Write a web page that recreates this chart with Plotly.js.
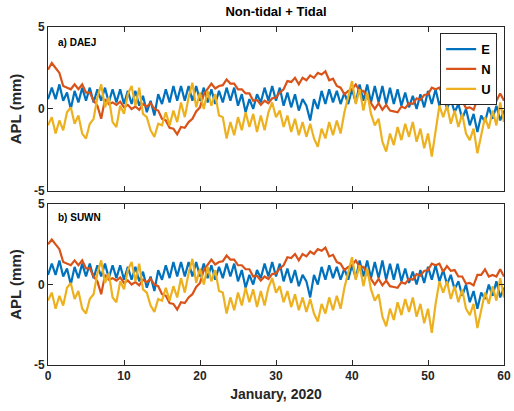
<!DOCTYPE html>
<html>
<head>
<meta charset="utf-8">
<script src="https://cdn.plot.ly/plotly-3.0.1.min.js"></script>
<style>html,body{margin:0;padding:0;background:#fff;}#chart{width:514px;height:411px;}</style>
</head>
<body>
<div id="chart"></div>
<script>
// Time axis: 0 .. 60 days, half-day sampling
const days = Array.from({length: 121}, (_, i) => i * 0.5);

const seriesNames = ['E', 'N', 'U'];
const panelLabels = ['a) DAEJ', 'b) SUWN'];
const xTicks = [0, 10, 20, 30, 40, 50, 60];
const yTicks = [-5, 0, 5];
const yTickText = ['-5', '0', '5'];

// ---- a) DAEJ ----
const daejE = [0.6,1.3,0.6,1.5,0.5,1.0,0.0,1.1,0.4,1.3,0.5,1.3,0.4,1.2,0.5,1.3,0.4,1.2,0.4,1.2,
  0.3,1.1,0.3,1.1,0.2,0.8,-0.2,0.5,-0.4,0.9,0.3,1.2,0.4,1.4,0.5,1.4,0.5,1.4,0.5,1.4,
  0.5,1.3,0.4,1.2,0.3,1.1,0.4,1.3,0.5,1.3,0.2,0.9,-0.2,0.6,0.0,0.9,0.4,1.3,0.5,1.4,
  0.5,1.3,0.2,1.0,0.1,0.9,-0.1,0.6,0.2,-0.7,0.6,0.0,1.1,0.3,1.2,0.4,1.1,0.3,1.0,0.3,
  1.2,0.4,1.5,0.5,1.5,0.4,1.4,0.4,1.4,0.3,1.3,0.3,1.2,0.2,1.0,0.1,0.8,0.0,0.9,0.1,
  1.1,0.3,1.2,0.2,0.9,0.0,0.6,-0.2,0.3,-0.6,0.0,-1.0,-0.3,-1.4,-0.4,-0.8,0.1,-0.6,0.2,-0.7,
  -0.1];
const daejN = [2.4,2.8,2.5,2.2,1.4,1.3,1.2,1.5,1.2,1.5,1.0,1.0,0.5,0.2,-0.6,0.6,0.3,0.4,0.25,0.45,
  0.1,0.25,0.0,0.15,-0.05,0.3,0.15,0.35,0.0,-0.1,-0.6,-0.7,-1.15,-1.2,-1.55,-1.1,-1.15,-0.8,-0.6,-0.15,
  0.1,0.9,1.25,1.55,1.25,1.4,1.45,1.8,1.55,1.55,1.2,1.2,0.95,0.95,0.5,0.55,0.25,0.5,0.35,0.65,
  0.7,1.0,1.2,1.7,1.65,1.9,1.5,1.9,1.75,2.05,1.9,2.2,2.1,2.3,1.75,1.85,1.4,1.3,0.9,1.1,
  1.2,1.5,1.1,1.1,0.7,0.35,0.0,0.35,-0.05,0.25,-0.1,-0.15,-0.2,0.15,0.05,0.35,0.3,0.65,0.55,0.85,
  0.9,1.3,1.2,1.3,0.8,1.15,0.85,0.9,0.5,0.5,0.05,0.1,-0.05,0.6,0.6,0.95,0.5,0.6,0.5,0.95,
  0.5];
const daejU = [-1.0,-0.5,-1.5,-0.7,-1.3,-0.2,0.1,-0.9,-0.4,-1.5,-1.8,-0.9,-0.6,0.7,1.5,0.1,0.7,-0.8,-1.1,0.2,
  -0.3,0.9,1.4,0.2,1.3,-0.3,-0.5,-1.3,-1.7,-0.9,-1.0,-0.2,-1.0,-0.1,-0.8,0.4,-0.5,0.7,1.6,0.1,
  1.0,0.0,1.1,0.2,0.9,-0.4,-0.5,-1.8,-0.8,-1.6,-0.5,-1.3,-0.2,-1.1,-0.3,-1.4,-0.4,-1.3,-0.2,0.4,
  -0.5,-0.1,-1.1,-0.4,-1.4,-0.6,-1.6,-0.8,-1.7,-0.9,-1.8,-2.3,-1.2,-1.8,-0.8,-1.6,-0.7,-1.5,-0.2,0.8,
  1.7,0.3,1.2,-0.1,1.0,-0.3,-1.0,-0.6,-2.0,-2.6,-1.5,-2.2,-1.1,-1.9,-0.9,-1.7,-0.8,-2.0,-1.2,-2.4,
  -1.5,-2.9,-1.2,0.2,-0.5,0.2,-0.9,-0.1,-1.1,-0.3,-1.5,-1.9,-1.2,-2.7,-1.6,-0.5,-1.2,-0.1,-1.0,0.4,
  -0.8];

// ---- b) SUWN ----
const suwnE = [0.6,1.3,0.6,1.5,0.5,1.0,0.0,1.1,0.4,1.3,0.5,1.3,0.4,1.2,0.5,1.3,0.4,1.2,0.4,1.2,
  0.3,1.1,0.3,1.1,0.2,0.8,-0.2,0.5,-0.4,0.9,0.3,1.2,0.4,1.4,0.5,1.4,0.5,1.4,0.5,1.4,
  0.5,1.3,0.4,1.2,0.3,1.1,0.4,1.3,0.5,1.3,0.2,0.9,-0.2,0.6,0.0,0.9,0.4,1.3,0.5,1.4,
  0.5,1.3,0.2,1.0,0.1,0.9,-0.1,0.6,0.2,-0.8,0.6,0.0,1.1,0.3,1.2,0.4,1.1,0.3,1.0,0.3,
  1.2,0.4,1.5,0.5,1.5,0.4,1.4,0.4,1.5,0.3,1.3,0.3,1.3,0.2,1.0,0.1,0.8,0.0,0.9,0.1,
  1.1,0.3,1.2,0.2,0.9,0.0,0.6,-0.3,0.2,-0.7,0.0,-1.1,-0.4,-1.5,-0.5,-0.9,0.0,-0.7,0.2,-0.8,
  -0.2];
const suwnN = [2.5,2.8,2.5,2.2,1.4,1.3,1.2,1.5,1.2,1.5,1.0,1.0,0.5,0.2,-0.6,0.6,0.3,0.4,0.25,0.45,
  0.1,0.25,0.0,0.15,-0.05,0.3,0.15,0.35,0.0,-0.1,-0.6,-0.7,-1.15,-1.2,-1.55,-1.1,-1.15,-0.8,-0.6,-0.15,
  0.1,0.9,1.25,1.55,1.25,1.4,1.45,1.8,1.55,1.55,1.2,1.2,0.95,0.95,0.5,0.55,0.25,0.5,0.35,0.65,
  0.7,1.0,1.2,1.7,1.65,1.9,1.5,1.9,1.75,2.05,1.9,2.2,2.1,2.3,1.75,1.85,1.4,1.3,0.9,1.1,
  1.2,1.5,1.1,1.1,0.7,0.35,0.0,0.35,-0.05,0.25,-0.1,-0.15,-0.2,0.15,0.05,0.35,0.3,0.65,0.55,0.85,
  0.9,1.3,1.2,1.3,0.8,1.15,0.85,0.9,0.5,0.5,0.05,0.1,-0.05,0.6,0.6,0.95,0.5,0.6,0.5,0.95,
  0.5];
const suwnU = [-1.0,-0.5,-1.5,-0.7,-1.3,-0.2,0.1,-0.9,-0.4,-1.5,-1.8,-0.9,-0.6,0.7,1.5,0.1,0.7,-0.8,-1.1,0.2,
  -0.3,0.9,1.4,0.2,1.3,-0.3,-0.5,-1.3,-1.7,-0.9,-1.0,-0.2,-1.0,-0.1,-0.8,0.4,-0.5,0.7,1.6,0.1,
  1.0,0.0,1.1,0.2,0.9,-0.4,-0.5,-1.8,-0.8,-1.6,-0.5,-1.3,-0.2,-1.1,-0.3,-1.4,-0.4,-1.3,-0.2,0.4,
  -0.5,-0.1,-1.1,-0.4,-1.4,-0.6,-1.6,-0.8,-1.7,-0.9,-1.8,-2.3,-1.2,-1.8,-0.8,-1.6,-0.7,-1.5,-0.2,0.8,
  1.7,0.3,1.2,-0.1,1.0,-0.3,-1.0,-0.6,-2.0,-2.6,-1.5,-2.2,-1.1,-1.9,-0.9,-1.7,-0.8,-2.0,-1.2,-2.4,
  -1.5,-3.0,-1.2,0.2,-0.5,0.2,-0.9,-0.1,-1.1,-0.3,-1.5,-1.9,-1.2,-2.7,-1.6,-0.5,-1.2,-0.1,-1.0,0.4,
  -0.8];

const colors = ['#0072BD', '#D95319', '#EDB120'];
const FONT = 'Liberation Sans, Arial, Helvetica, sans-serif';
const AX = '#262626';

const panels = [[daejE, daejN, daejU], [suwnE, suwnN, suwnU]];
const traces = [];
panels.forEach((sers, p) => {
  sers.forEach((vals, k) => {
    traces.push({
      x: days, y: vals, type: 'scatter', mode: 'lines',
      name: seriesNames[k],
      line: {color: colors[k], width: 2.2},
      xaxis: p === 0 ? 'x' : 'x2',
      yaxis: p === 0 ? 'y' : 'y2',
      showlegend: p === 0,
      hoverinfo: 'skip'
    });
  });
});

function xAxis(anchor, labels) {
  return {
    domain: [0, 1], anchor: anchor, range: [0, 60],
    tickmode: 'array', tickvals: xTicks, ticktext: xTicks.map(String),
    showticklabels: labels,
    ticks: 'inside', ticklen: 5, tickwidth: 1, tickcolor: AX,
    showline: true, mirror: 'ticks', linecolor: AX, linewidth: 1,
    showgrid: false, zeroline: false,
    tickfont: {family: FONT, size: 12, color: AX, weight: 'bold'}
  };
}
function yAxis(anchor, domain) {
  return {
    domain: domain, anchor: anchor, range: [-5, 5],
    tickmode: 'array', tickvals: yTicks, ticktext: yTickText,
    ticks: 'inside', ticklen: 5, tickwidth: 1, tickcolor: AX,
    showline: true, mirror: 'ticks', linecolor: AX, linewidth: 1,
    showgrid: false, zeroline: false,
    tickfont: {family: FONT, size: 12, color: AX, weight: 'bold'},
    title: {text: 'APL (mm)', font: {family: FONT, size: 15, color: AX, weight: 'bold'}, standoff: 8}
  };
}

const xa1 = xAxis('y', false);
const xa2 = xAxis('y2', true);
xa2.title = {text: 'January, 2020', font: {family: FONT, size: 14, color: AX, weight: 'bold'}, standoff: 6};

const layout = {
  width: 514, height: 411,
  margin: {l: 48, r: 10, t: 27, b: 46},
  paper_bgcolor: '#fff', plot_bgcolor: '#fff',
  font: {family: FONT, color: AX},
  title: {text: 'Non-tidal + Tidal', font: {family: FONT, size: 13, color: '#000', weight: 'bold'},
          x: 0.537, xanchor: 'center', y: 0.971, yanchor: 'middle'},
  xaxis: xa1,
  yaxis: yAxis('x', [0.515, 1]),
  xaxis2: xa2,
  yaxis2: yAxis('x2', [0, 0.476]),
  showlegend: true,
  legend: {x: 0.985, y: 0.982, xanchor: 'right', yanchor: 'top',
           bgcolor: '#fff', bordercolor: AX, borderwidth: 1,
           font: {family: FONT, size: 13, color: '#000', weight: 'bold'},
           tracegroupgap: 0, itemwidth: 30},
  annotations: [
    {text: panelLabels[0], xref: 'paper', yref: 'paper', x: 0.018, y: 0.953, xanchor: 'left', yanchor: 'middle',
     showarrow: false, font: {family: FONT, size: 10, color: '#000', weight: 'bold'}},
    {text: panelLabels[1], xref: 'paper', yref: 'paper', x: 0.018, y: 0.435, xanchor: 'left', yanchor: 'middle',
     showarrow: false, font: {family: FONT, size: 10, color: '#000', weight: 'bold'}}
  ]
};

Plotly.newPlot('chart', traces, layout, {staticPlot: true, displayModeBar: false});
</script>
</body>
</html>
